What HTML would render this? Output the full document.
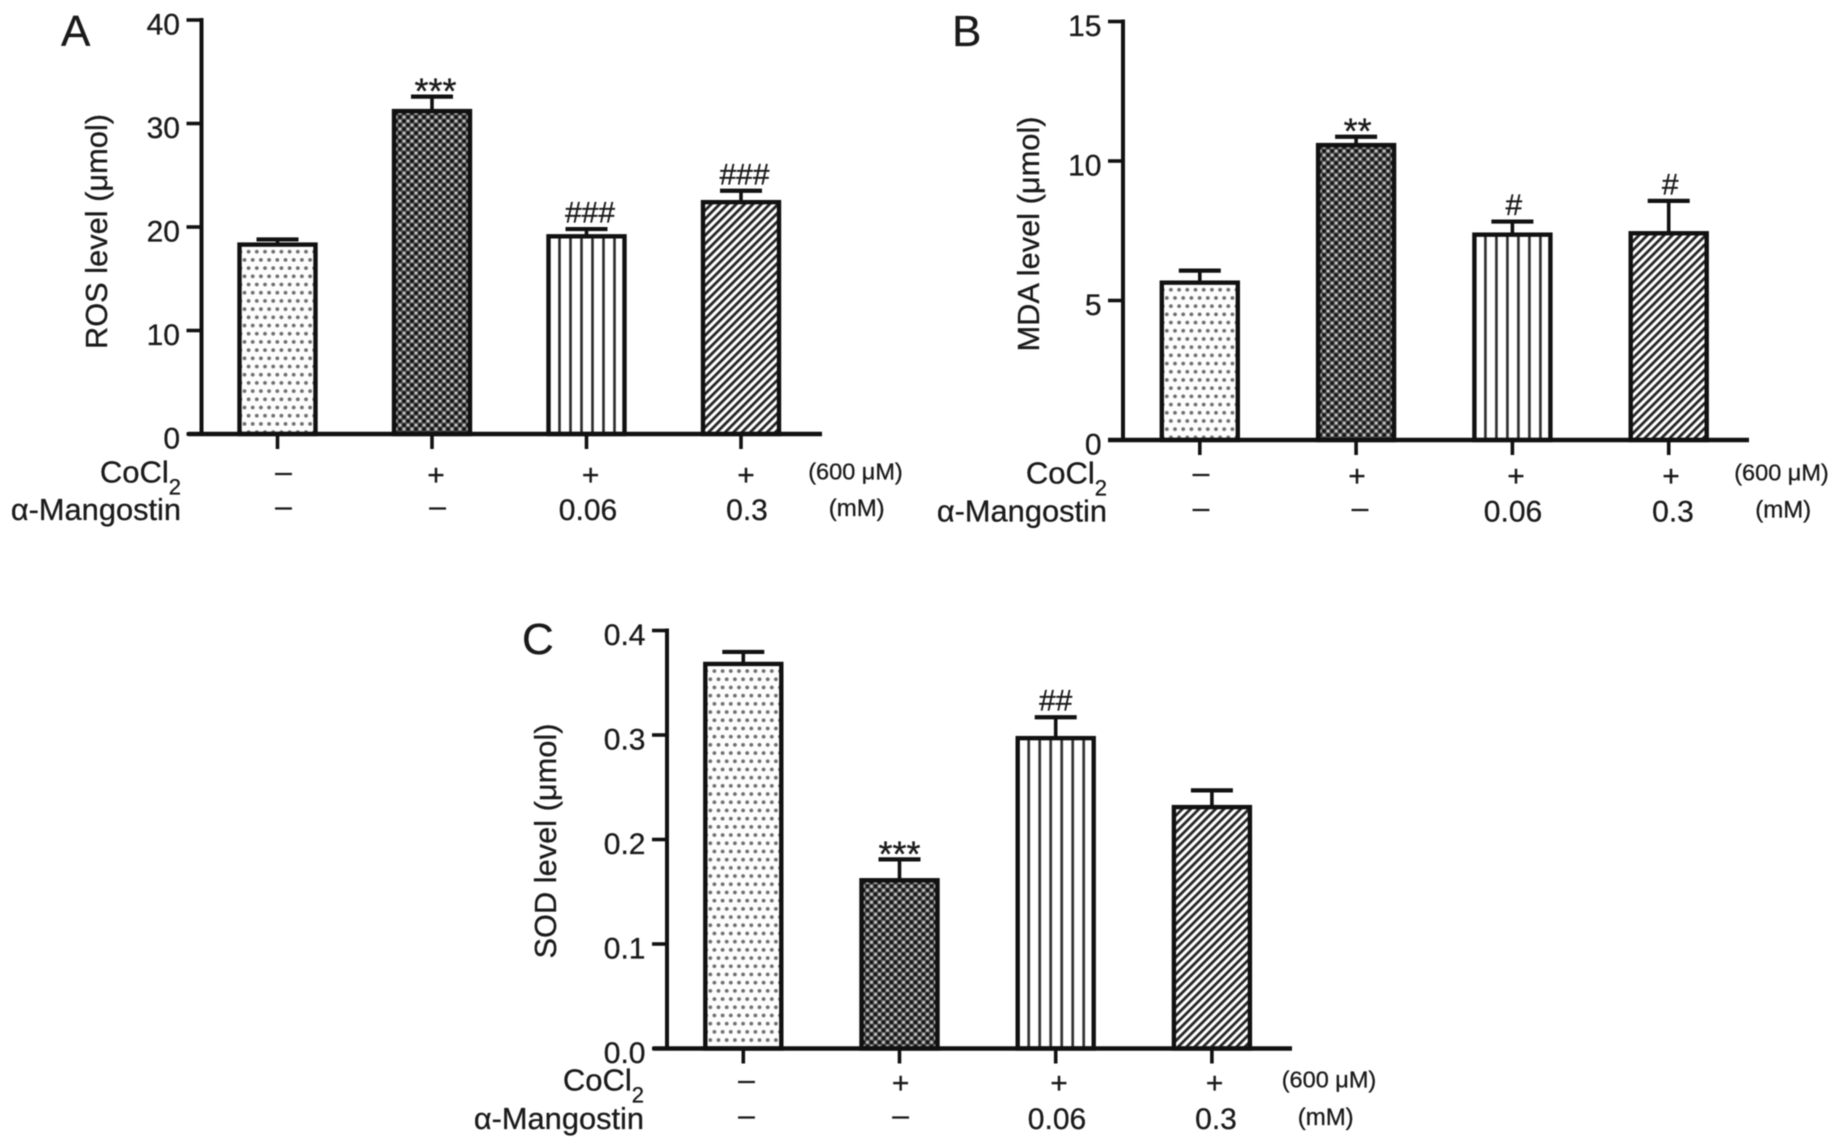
<!DOCTYPE html>
<html lang="en">
<head>
<meta charset="utf-8">
<title>ROS, MDA and SOD levels</title>
<style>
html,body{margin:0;padding:0;background:#fff;width:1840px;height:1148px;overflow:hidden}
svg{display:block;filter:blur(0.65px)}
text{font-family:"Liberation Sans",Arial,sans-serif;fill:#1a1a1a;stroke:#1a1a1a;stroke-width:0.3px}
</style>
</head>
<body>
<svg id="figure" xmlns="http://www.w3.org/2000/svg" width="1840" height="1148" viewBox="0 0 1840 1148">
<rect width="1840" height="1148" fill="#fff"/>
<defs id="defs"></defs>
</svg>
<script>
// ---- chart data ----
var rowCoCl = ['–', '+', '+', '+'];
var rowMangostin = ['–', '–', '0.06', '0.3'];

var rosValues = [18.3, 31.2, 19.1, 22.4];
var rosErrors = [0.5, 1.4, 0.7, 1.1];
var rosMarks = ['', '***', '###', '###'];
var rosTicks = ['0', '10', '20', '30', '40'];

var mdaValues = [5.64, 10.57, 7.36, 7.41];
var mdaErrors = [0.43, 0.3, 0.47, 1.16];
var mdaMarks = ['', '**', '#', '#'];
var mdaTicks = ['0', '5', '10', '15'];

var sodValues = [0.368, 0.161, 0.297, 0.231];
var sodErrors = [0.0115, 0.02, 0.02, 0.016];
var sodMarks = ['', '***', '##', ''];
var sodTicks = ['0.0', '0.1', '0.2', '0.3', '0.4'];

// ---- layout (pixels) ----
var panels = [
  {key:'a', letter:'A', letterX:61, letterY:46, title:'ROS level (μmol)', titleX:107, titleY:231.5,
   axisX:201.5, top:20, zero:434, xStart:188, xEnd:822, first:277.5, step:154.5, markShift:3.5,
   row1Xs:[283.5,436,590.6,746], row2Xs:[283.5,437.6,588,747],
   base1:482.7, base2:520, labelEnd:181, unit1X:855.5, unit2X:856.7,
   ticks:rosTicks, values:rosValues, errors:rosErrors, marks:rosMarks},
  {key:'b', letter:'B', letterX:952, letterY:46, title:'MDA level (μmol)', titleX:1039, titleY:234,
   axisX:1123, top:21.5, zero:440, xStart:1108, xEnd:1749, first:1199.8, step:156.3, markShift:1.5,
   row1Xs:[1201,1357,1516,1671], row2Xs:[1201,1360,1513,1673],
   base1:483.5, base2:521.5, labelEnd:1107, unit1X:1781.5, unit2X:1783.2,
   ticks:mdaTicks, values:mdaValues, errors:mdaErrors, marks:mdaMarks},
  {key:'c', letter:'C', letterX:522, letterY:654, title:'SOD level (μmol)', titleX:556, titleY:841,
   axisX:667, top:630.5, zero:1048.5, xStart:653, xEnd:1292, first:743.3, step:156.2, markShift:0,
   row1Xs:[746.5,900.6,1059,1214.7], row2Xs:[746.5,900.6,1057,1216],
   base1:1090.5, base2:1129, labelEnd:644, unit1X:1329, unit2X:1325.7,
   ticks:sodTicks, values:sodValues, errors:sodErrors, marks:sodMarks}
];
var fills = ['dots', 'dense', 'vertical', 'diagonal'];

// ---- drawing ----
var NS = 'http://www.w3.org/2000/svg';
var svg = document.getElementById('figure');
var defs = document.getElementById('defs');

function make(tag, parent, attrs, text) {
  var node = document.createElementNS(NS, tag);
  for (var k in attrs) node.setAttribute(k, attrs[k]);
  if (text !== undefined) node.textContent = text;
  parent.appendChild(node);
  return node;
}

function buildPattern(id, kind, left, top) {
  var p;
  if (kind === 'dots') {
    p = make('pattern', defs, {id:id, patternUnits:'userSpaceOnUse', width:8.2, height:16.4, patternTransform:'translate(' + (left + 7) + ' ' + (top + 5) + ')'});
    make('rect', p, {width:8.2, height:16.4, fill:'#fdfdfd'});
    make('circle', p, {cx:2.1, cy:2.1, r:1.9, fill:'#6f6f6f'});
    make('circle', p, {cx:6.2, cy:10.3, r:1.9, fill:'#6f6f6f'});
  } else if (kind === 'dense') {
    p = make('pattern', defs, {id:id, patternUnits:'userSpaceOnUse', width:8, height:8, patternTransform:'translate(' + left + ' ' + top + ')'});
    make('rect', p, {width:8, height:8, fill:'#505050'});
    make('circle', p, {cx:2, cy:2, r:1.7, fill:'#111'});
    make('circle', p, {cx:6, cy:6, r:1.7, fill:'#111'});
    make('circle', p, {cx:6, cy:2, r:1.5, fill:'#c8c8c8'});
    make('circle', p, {cx:2, cy:6, r:1.5, fill:'#c8c8c8'});
  } else if (kind === 'vertical') {
    p = make('pattern', defs, {id:id, patternUnits:'userSpaceOnUse', width:11, height:11, patternTransform:'translate(' + left + ' 0)'});
    make('rect', p, {width:11, height:11, fill:'#fff'});
    make('rect', p, {x:-1.3, width:2.6, height:11, fill:'#2a2a2a'});
    make('rect', p, {x:9.7, width:2.6, height:11, fill:'#2a2a2a'});
  } else {
    p = make('pattern', defs, {id:id, patternUnits:'userSpaceOnUse', width:5.9, height:5.9, patternTransform:'translate(' + left + ' ' + top + ') rotate(45)'});
    make('rect', p, {width:5.9, height:5.9, fill:'#fff'});
    make('rect', p, {x:0, width:2.8, height:5.9, fill:'#262626'});
  }
  return id;
}

panels.forEach(function (cfg) {
  var tickMax = parseFloat(cfg.ticks[cfg.ticks.length - 1]);
  var yScale = function (v) { return cfg.zero - (v / tickMax) * (cfg.zero - cfg.top); };
  var xScale = function (i) { return cfg.first + i * cfg.step; };

  var g = make('g', svg, {});
  
  

  var letter = make('text', g, {x:cfg.letterX, y:cfg.letterY, 'font-size':44}, cfg.letter);
  
  

  var title = make('text', g, {'font-size':30.8, 'text-anchor':'middle', transform:'translate(' + cfg.titleX + ' ' + cfg.titleY + ') rotate(-90)'}, cfg.title);
  
  

  // bars and error bars
  cfg.values.forEach(function (value, i) {
    var cx = xScale(i);
    var yTop = yScale(value);
    var yErr = yScale(value + cfg.errors[i]);

    var stem = make('line', g, {x1:cx, x2:cx, y1:yTop, y2:yErr, stroke:'#111', 'stroke-width':3.6});
    
    

    var cap = make('line', g, {x1:cx - 21, x2:cx + 21, y1:yErr, y2:yErr, stroke:'#111', 'stroke-width':4.2});
    
    

    var left = cx - 38;
    var pid = buildPattern('fill-' + cfg.key + '-' + i, fills[i], left, yTop);
    var bar = make('rect', g, {x:left, y:yTop, width:76, height:cfg.zero - yTop, fill:'url(#' + pid + ')', stroke:'#111', 'stroke-width':4.4});
    
    

    if (cfg.marks[i]) {
      var isStar = cfg.marks[i].charAt(0) === '*';
      var mark = make('text', g, {x:cx + cfg.markShift, y:yErr + (isStar ? 7 : -6.5), 'font-size':isStar ? 36 : 30, 'text-anchor':'middle'}, cfg.marks[i]);
      
      
    }

    var xTick = make('line', g, {x1:cx, x2:cx, y1:cfg.zero, y2:cfg.zero + 15, stroke:'#111', 'stroke-width':3.6});
    
    
  });

  // axes
  var yAxis = make('line', g, {x1:cfg.axisX, x2:cfg.axisX, y1:cfg.top - 2, y2:cfg.zero, stroke:'#111', 'stroke-width':4});
  
  

  var xAxis = make('line', g, {x1:cfg.xStart, x2:cfg.xEnd, y1:cfg.zero, y2:cfg.zero, stroke:'#111', 'stroke-width':4.6});
  
  

  cfg.ticks.forEach(function (label) {
    var y = yScale(parseFloat(label));
    var tick = make('line', g, {x1:cfg.axisX - 15, x2:cfg.axisX, y1:y, y2:y, stroke:'#111', 'stroke-width':3.6});
    
    

    var tickLabel = make('text', g, {x:cfg.axisX - 21.5, y:y + 14.5, 'font-size':30, 'text-anchor':'end'}, label);
    
    
  });

  // treatment rows
  var cocl = make('text', g, {x:cfg.labelEnd, y:cfg.base1, 'font-size':31, 'text-anchor':'end'});
  
  
  make('tspan', cocl, {}, 'CoCl');
  make('tspan', cocl, {dy:12, 'font-size':22}, '2');

  var manLabel = make('text', g, {x:cfg.labelEnd, y:cfg.base2, 'font-size':30.8, 'text-anchor':'end'}, 'α-Mangostin');
  
  

  rowCoCl.forEach(function (sym, i) {
    var cell = make('text', g, {x:cfg.row1Xs[i], y:cfg.base1 + (sym === '+' ? 2.5 : -1), 'font-size':30, 'text-anchor':'middle'}, sym);
    
    
  });

  rowMangostin.forEach(function (sym, i) {
    var cell2 = make('text', g, {x:cfg.row2Xs[i], y:cfg.base2 + (sym === '–' ? -4 : 0), 'font-size':30, 'text-anchor':'middle'}, sym);
    
    
  });

  var unit1 = make('text', g, {x:cfg.unit1X, y:cfg.base1 - 3, 'font-size':23.5, 'text-anchor':'middle'}, '(600 μM)');
  
  

  var unit2 = make('text', g, {x:cfg.unit2X, y:cfg.base2 - 4, 'font-size':24, 'text-anchor':'middle'}, '(mM)');
  
  
});
</script>
</body>
</html>
